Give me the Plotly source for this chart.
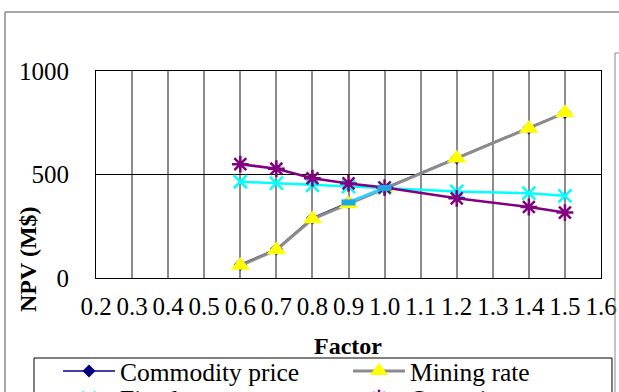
import plotly.graph_objects as go

# Sensitivity of project NPV to each input factor
factor = [0.6, 0.7, 0.8, 0.9, 1.0, 1.2, 1.4, 1.5]
commodity_price = [65, 140, 290, 365, 435, 580, 725, 800]
mining_rate = [60, 135, 285, 358, 433, 578, 722, 798]
fixed_costs = [465, 458, 448, 442, 435, 418, 410, 397]
operating_costs = [550, 528, 482, 457, 437, 385, 343, 316]
recovery_factor = [0.9, 1.0]
recovery = [365, 435]

x_ticks = [round(0.2 + 0.1 * i, 1) for i in range(15)]
y_ticks = [0, 500, 1000]

W, H = 619, 392
L, R, T, B = 96, 18, 71, 114
pw, ph = W - L - R, H - T - B


def px(xp):
    return (xp - L) / pw


def py(yp):
    return (H - B - yp) / ph


serif = "Times New Roman"

fig = go.Figure()
fig.add_trace(go.Scatter(
    x=factor, y=commodity_price, name="Commodity price", mode="lines+markers",
    line=dict(color="#000080", width=1.5),
    marker=dict(symbol="diamond", size=10, color="#000080")))
fig.add_trace(go.Scatter(
    x=factor, y=mining_rate, name="Mining rate", mode="lines+markers",
    line=dict(color="#8c8c8c", width=3),
    marker=dict(symbol="triangle-up", size=17, color="#ffff00")))
fig.add_trace(go.Scatter(
    x=factor, y=fixed_costs, name="Fixed costs", mode="lines+markers", legend="legend2",
    line=dict(color="#00ffff", width=2.5),
    marker=dict(symbol="x-thin", size=13, line=dict(color="#00ffff", width=2.5))))
fig.add_trace(go.Scatter(
    x=factor, y=operating_costs, name="Operating costs", mode="lines+markers", legend="legend2",
    line=dict(color="#800080", width=2.5),
    marker=dict(symbol="asterisk", size=14, line=dict(color="#800080", width=2.5))))
fig.add_trace(go.Scatter(
    x=recovery_factor, y=recovery, name="Recovery", mode="lines+markers", legend="legend2",
    line=dict(color="#33ccff", width=3),
    marker=dict(symbol="line-ew", size=10, line=dict(color="#1aa8e8", width=6))))

grey = "#8a8a8a"
shapes = [
    # chart frame (top and left edges)
    dict(type="line", xref="paper", yref="paper", x0=px(5), y0=py(12), x1=px(640), y1=py(12),
         line=dict(color=grey, width=1.5)),
    dict(type="line", xref="paper", yref="paper", x0=px(5), y0=py(12), x1=px(5), y1=py(420),
         line=dict(color=grey, width=1.5)),
    # neighbouring frame on the right
    dict(type="line", xref="paper", yref="paper", x0=px(615), y0=py(53), x1=px(615), y1=py(420),
         line=dict(color=grey, width=1)),
    dict(type="line", xref="paper", yref="paper", x0=px(615), y0=py(53), x1=px(640), y1=py(53),
         line=dict(color=grey, width=1)),
    # legend box
    dict(type="rect", xref="paper", yref="paper", x0=px(34), y0=py(358), x1=px(612), y1=py(440),
         line=dict(color="black", width=1), fillcolor="rgba(0,0,0,0)"),
]

annotations = [
    dict(text="<b>NPV (M$)</b>", xref="paper", yref="paper", x=px(28), y=py(259),
         xanchor="center", yanchor="middle",
         showarrow=False, textangle=-90, font=dict(family=serif, size=24, color="black")),
    dict(text="<b>Factor</b>", xref="paper", yref="paper", x=px(348), y=py(346),
         xanchor="center", yanchor="middle",
         showarrow=False, font=dict(family=serif, size=24, color="black")),
]

legend_style = dict(
    orientation="h", xref="paper", yref="paper",
    x=px(58), xanchor="left", yanchor="top",
    bgcolor="rgba(0,0,0,0)", borderwidth=0,
    font=dict(family=serif, size=25.5, color="black"),
    itemwidth=52, entrywidth=223, entrywidthmode="pixels",
)

fig.update_layout(
    width=W, height=H,
    margin=dict(l=L, r=R, t=T, b=B, autoexpand=False),
    paper_bgcolor="white", plot_bgcolor="white",
    font=dict(family=serif, size=25, color="black"),
    showlegend=True,
    legend=dict(legend_style, y=py(348)),
    legend2=dict(legend_style, y=py(375)),
    xaxis=dict(
        range=[0.2, 1.6], tickvals=x_ticks, ticktext=[f"{v:.1f}" for v in x_ticks],
        showgrid=True, gridcolor="#8c8c8c", gridwidth=2,
        showline=True, linecolor="black", linewidth=1, mirror=True,
        ticks="", zeroline=False, ticklabelstandoff=6, automargin=False,
        tickfont=dict(family=serif, size=25, color="black"),
    ),
    yaxis=dict(
        range=[0, 1000], tickvals=y_ticks,
        showgrid=True, gridcolor="black", gridwidth=1,
        showline=True, linecolor="black", linewidth=1, mirror=True,
        ticks="", zeroline=False, ticklabelstandoff=21, automargin=False,
        tickfont=dict(family=serif, size=25, color="black"),
    ),
    shapes=shapes,
    annotations=annotations,
)

fig.write_html("out.html", config={"displayModeBar": False})
